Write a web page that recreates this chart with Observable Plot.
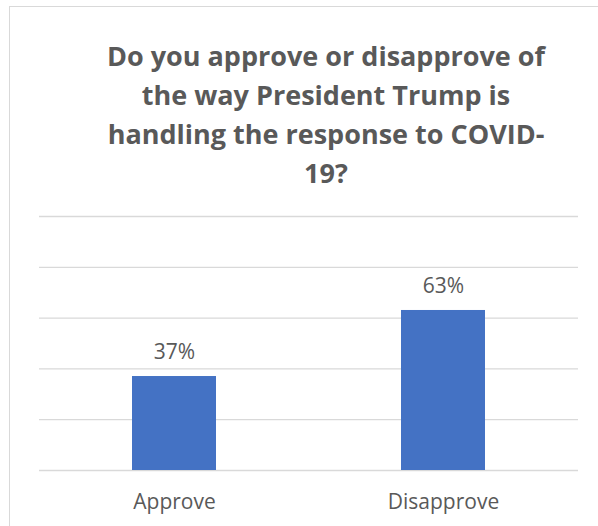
<!DOCTYPE html>
<html>
<head>
<meta charset="utf-8">
<script src="https://cdn.jsdelivr.net/npm/d3@7"></script>
<script src="https://cdn.jsdelivr.net/npm/@observablehq/plot@0.6"></script>
<style>
  html, body { margin: 0; padding: 0; background: #fff; overflow: hidden; width: 598px; height: 526px; }
  #frame { position: absolute; left: 9px; top: 6px; width: 1000px; height: 1000px; border: 1px solid #d9d9d9; box-sizing: border-box; }
  #title { position: absolute; left: 0; top: 0; }
  #chart { position: absolute; left: 0; top: 200px; }
</style>
</head>
<body>
<div id="frame"></div>
<svg id="title" width="598" height="200"></svg>
<div id="chart"></div>
<script>
const categories = ["Approve", "Disapprove"];
const values = [37, 63];
const yTicks = [0, 20, 40, 60, 80, 100];
const titleLines = ["Do you approve or disapprove of", "the way President Trump is", "handling the response to COVID-", "19?"];

const data = categories.map((c, i) => ({category: c, value: values[i]}));

// Title
const tsvg = d3.select("#title");
tsvg.selectAll("text").data(titleLines).join("text")
  .attr("x", 326)
  .attr("y", (d, i) => 66 + i * 39)
  .attr("text-anchor", "middle")
  .attr("font-family", "Open Sans")
  .attr("font-weight", 700)
  .attr("font-size", 27)
  .attr("fill", "#595959")
  .text(d => d);

const chart = Plot.plot({
  width: 598,
  height: 326,
  marginLeft: 39,
  marginRight: 20,
  marginTop: 16,
  marginBottom: 56,
  style: {fontFamily: "Open Sans", fontSize: "21px", color: "#595959", background: "transparent"},
  x: {domain: categories, paddingInner: 0.688, paddingOuter: 0.344, label: null},
  y: {domain: [0, 100], axis: null},
  marks: [
    Plot.gridY(yTicks, {stroke: "#d9d9d9", strokeOpacity: 1, strokeWidth: 1.3}),
    Plot.barY(data, {x: "category", y: "value", fill: "#4472C4"}),
    Plot.text(data, {x: "category", y: "value", text: d => d.value + "%", dy: -17.5, lineAnchor: "bottom", fill: "#595959", fontSize: 21, fontFamily: "Open Sans"}),
    Plot.axisX({tickSize: 0, tickPadding: 24, fontSize: 21, fontFamily: "Open Sans", fill: "#595959", label: null})
  ]
});
document.getElementById("chart").appendChild(chart);
</script>
</body>
</html>
